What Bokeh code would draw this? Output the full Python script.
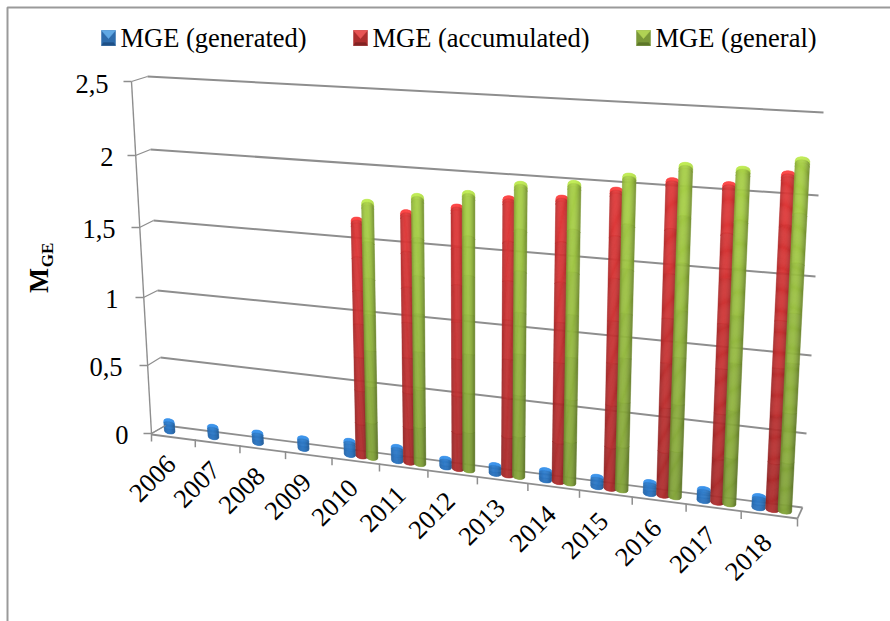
import math
import numpy as np
from bokeh.plotting import figure
from bokeh.core.properties import value
from bokeh.embed import file_html
from bokeh.resources import INLINE

# ---------- data ----------
years = ["2006","2007","2008","2009","2010","2011","2012","2013","2014","2015","2016","2017","2018"]
mge_generated = [0.09,0.09,0.09,0.09,0.115,0.115,0.075,0.075,0.085,0.085,0.095,0.095,0.095]
mge_accumulated = [None,None,None,None,1.67,1.746,1.81,1.89,1.92,1.997,2.08,2.08,2.17]
mge_general = [None,None,None,None,1.795,1.86,1.905,1.99,2.02,2.09,2.18,2.18,2.26]
value_ticks = [0,0.5,1,1.5,2,2.5]
value_tick_labels = ["0","0,5","1","1,5","2","2,5"]
series_names = ["MGE (generated)","MGE (accumulated)","MGE (general)"]

# ---------- 3-D view calibration (screen position of the chart box) ----------
FL = np.array([[151,433],[147,365],[143,297],[139,227],[135,155],[131,81]],float)
BL = np.array([[165,425],[160,357],[157,290],[153,220],[150,149],[147,76]],float)
BR = np.array([[802,507],[806,433],[811,355],[815,276],[818,195],[823,112]],float)
FR = BR + np.array([-5,11.0])
PERSP = 1.146
N = len(years)

def lvl(tbl, v):
    return np.array([np.interp(v,value_ticks,tbl[:,0]), np.interp(v,value_ticks,tbl[:,1])])

def proj(t, d, v):
    f = t/N
    u = f/(f+PERSP*(1-f))
    front = lvl(FL,v)*(1-u)+lvl(FR,v)*u
    back = lvl(BL,v)*(1-u)+lvl(BR,v)*u
    return front*(1-d)+back*d

p = figure(width=890,height=621,x_range=(0,890),y_range=(621,0),
           output_backend="svg",toolbar_location=None,min_border=0,
           x_axis_location=None,y_axis_location=None,
           styles={"position":"absolute","left":"0px","top":"0px"})
p.grid.visible=False
p.outline_line_color=None
GR="#8e8e8e"
SER="Liberation Serif"

# frame
p.line([7,7,890],[621,7,7],line_color="#9a9a9a",line_width=2)

def seg(a,b,w=1.6):
    p.line([a[0],b[0]],[a[1],b[1]],line_color=GR,line_width=w)

# walls
for v in value_ticks:
    fl,bl,br=lvl(FL,v),lvl(BL,v),lvl(BR,v)
    seg(bl,br,2 if v>0 else 1.8)
    seg(fl,bl,1.3)
    seg(fl-np.array([8,0]),fl,1.3)
seg(lvl(FL,0),lvl(FL,2.5),1.4)
seg(lvl(BR,0),lvl(FR,0),1.8)

def shade(top,bot,s,r,soft):
    across=1-soft*(((s+0.1)/1.1)**2)
    c=np.array(top)*(1-r)+np.array(bot)*r
    c=c*across
    c=np.clip(c,0,255).astype(int)
    return "#%02x%02x%02x"%tuple(c)

def bar(i,off,val,top,bot,soft=0.30,dome=4):
    if val is None: return
    t=i+off; w=0.122
    ss=np.linspace(-1,1,15)
    xs,ys,cols=[],[],[]
    b0=proj(t,.5,0); t0=proj(t,.5,val)
    H=b0[1]-t0[1]+3
    fr=np.concatenate(([0,3/H,6/H],np.linspace(6/H,1,8 if H>60 else 3)[1:]))
    def pt(s,f):
        bo=proj(t+s*w,.5,0); to=proj(t+s*w,.5,val)
        yt=to[1]+dome*(1-math.sqrt(max(0,1-s*s)))
        yb=bo[1]+3*math.sqrt(max(0,1-s*s))
        return to[0]*(1-f)+bo[0]*f, yt*(1-f)+yb*f
    for c in range(len(ss)-1):
        sm=(ss[c]+ss[c+1])/2
        for r in range(len(fr)-1):
            a,b=pt(ss[c],fr[r]),pt(ss[c+1],fr[r])
            d,e=pt(ss[c+1],fr[r+1]),pt(ss[c],fr[r+1])
            xs.append([a[0],b[0],d[0],e[0]]); ys.append([a[1],b[1],d[1],e[1]])
            rm=(fr[r]+fr[r+1])/2
            cc=shade(top,bot,sm,rm,soft)
            if r==0: # lighter rim of the rounded cap
                cc=shade(np.array(top)*1.12,bot,sm*0.4,0,soft)
            cols.append(cc)
    p.patches(xs,ys,fill_color=cols,line_color=cols,line_width=0.5)

C_B=((50,130,210),(40,112,188))
C_R=((226,58,58),(172,46,46))
C_G=((170,210,72),(130,162,58))
for i in range(N):
    bar(i,0.26,mge_generated[i],*C_B,soft=0.22,dome=3)
    bar(i,0.51,mge_accumulated[i],*C_R)
    bar(i,0.73,mge_general[i],*C_G)

# floor front + ticks
a=lvl(FL,0)+np.array([0,1]); b=lvl(FR,0)
seg(a,b,1.8)
seg(lvl(FL,0),lvl(BL,0),1.3)
for t in range(N+1):
    q=proj(t,0,0)
    seg(q,q+np.array([0,8]),1.5)

# texts
def txt(x,y,s,size,align="left",base="alphabetic",angle=0,style="normal"):
    p.text([x],[y],[s],text_font=value(SER),text_font_size=f"{size}px",text_align=align,
           text_baseline=base,angle=angle,text_color="#000000",text_font_style=style)

label_right=[128,122,118,115,113,108]
label_y=[434,366,298,228,156,83]
for s,xx,yy in zip(value_tick_labels,label_right,label_y):
    txt(xx,yy,s,26.5,align="right")

for i,y_ in enumerate(years):
    q=proj(i+0.5,0,0)
    txt(q[0]-21,q[1]+42,y_,26.5,align="center",base="middle",angle=math.pi/4)

txt(38,280,"M",26.5,align="center",angle=math.pi/2,style="bold")
txt(47,254.5,"GE",17,align="center",angle=math.pi/2,style="bold")

# legend
leg_x=[101,353,636]
leg_c=[((96,168,228),(46,108,172),(30,80,135)),((232,84,84),(172,46,46),(130,35,35)),((176,210,84),(122,152,56),(92,118,40))]
for lx,name,(hi,mid,dk) in zip(leg_x,series_names,leg_c):
    hexc=lambda c:"#%02x%02x%02x"%c
    p.quad(left=[lx],right=[lx+14],top=[30],bottom=[45],fill_color=hexc(mid),line_color=hexc(mid),line_width=0.5)
    p.patch([lx,lx+14,lx+7],[30,30,38],fill_color=hexc(hi),line_color=hexc(hi),line_width=0.5)
    p.patch([lx,lx+14,lx+12,lx+2],[45,45,42,42],fill_color=hexc(dk),line_color=hexc(dk),line_width=0.3)
    txt(lx+19,37,name,26.5)

open("out.html","w").write(file_html(p,INLINE))
